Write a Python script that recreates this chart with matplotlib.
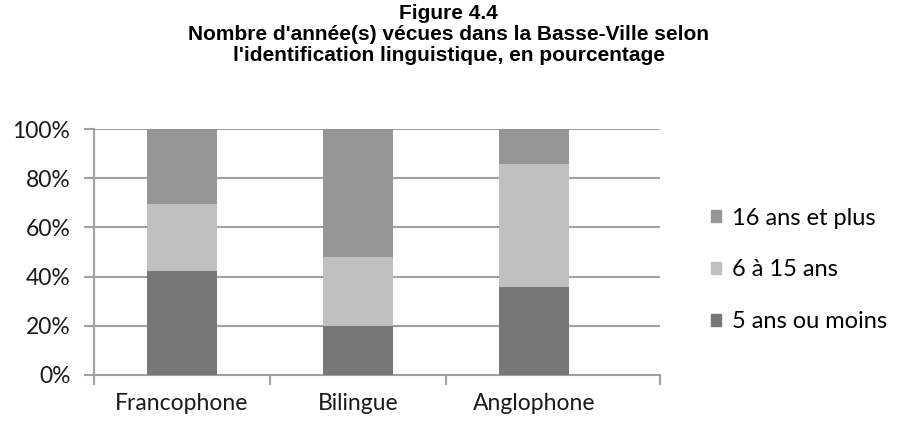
import matplotlib.pyplot as plt
from matplotlib.patches import Patch
from matplotlib.ticker import FixedLocator, PercentFormatter

categories = ["Francophone", "Bilingue", "Anglophone"]
series = ["5 ans ou moins", "6 à 15 ans", "16 ans et plus"]
moins_5 = [42.3, 19.9, 35.8]
de_6_15 = [27.2, 28.2, 50.0]
plus_16 = [30.5, 51.9, 14.2]
colors = ["#767676", "#c0c0c0", "#969696"]

fig = plt.figure(figsize=(8.97, 4.23), dpi=100)
ax = fig.add_axes([0.1048, 0.1135, 0.631, 0.5815])

x = range(len(categories))
bottom = [0, 0, 0]
for name, vals, c in zip(series, [moins_5, de_6_15, plus_16], colors):
    ax.bar(x, vals, width=0.4, bottom=bottom, color=c, label=name, zorder=3)
    bottom = [b + v for b, v in zip(bottom, vals)]

# excel draws the category axis a bit longer than the 3 slots
ax.set_xlim(-0.5, 2.716)
ax.set_ylim(0, 100)
ax.set_yticks([0, 20, 40, 60, 80, 100])
ax.yaxis.set_major_formatter(PercentFormatter(decimals=0))
ax.grid(axis="y", color="#a0a0a0", linewidth=1.5, zorder=0)

ax.set_xticks(list(x))
ax.set_xticklabels(categories)
ax.tick_params(axis="x", which="major", length=0, pad=13)
ax.xaxis.set_minor_locator(FixedLocator([-0.5, 0.5, 1.5, 2.716]))
ax.tick_params(axis="x", which="minor", length=7, width=1.5, color="#a0a0a0")
ax.tick_params(axis="y", length=7, width=1.5, color="#a0a0a0", direction="out", pad=10)

for side in ["top", "right"]:
    ax.spines[side].set_visible(False)
for side in ["left", "bottom"]:
    ax.spines[side].set_color("#a0a0a0")
    ax.spines[side].set_linewidth(1.5)

for lab in ax.get_xticklabels() + ax.get_yticklabels():
    lab.set_family(["Lato", "DejaVu Sans"])
    lab.set_fontsize(16.5)
    lab.set_color("#1a1a1a")

handles = [Patch(color=c) for c in colors]
leg = fig.legend(handles[::-1], series[::-1], loc="center left",
                 bbox_to_anchor=(0.769, 0.362), frameon=False,
                 handlelength=0.42, handleheight=0.42, handletextpad=0.45,
                 labelspacing=1.3, prop={"family": "Lato", "size": 17})

fig.text(0.5, 0.99, "Figure 4.4\nNombre d'année(s) vécues dans la Basse-Ville selon\n"
         "l'identification linguistique, en pourcentage",
         ha="center", va="top", fontsize=15, fontweight="bold",
         family="Liberation Sans", linespacing=1.12)

fig.savefig("out.png", dpi=100)
